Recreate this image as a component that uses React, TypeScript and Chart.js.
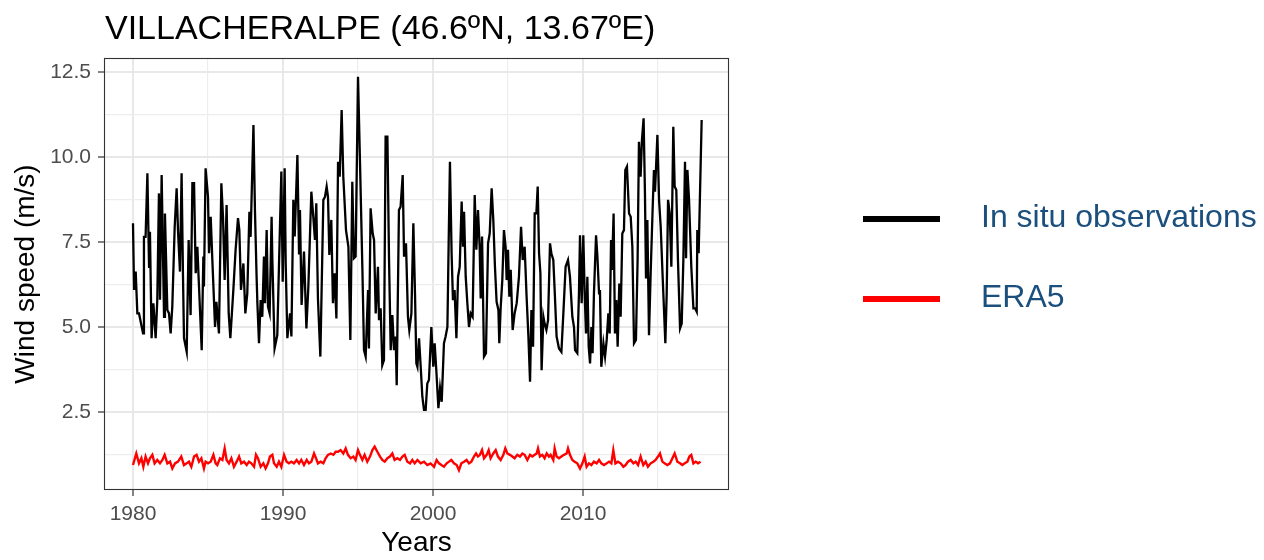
import React, { useEffect, useRef } from "react";
import { Chart, registerables } from "chart.js";

Chart.register(...registerables);

const TITLE = "VILLACHERALPE (46.6ºN, 13.67ºE)";
const X_TITLE = "Years";
const Y_TITLE = "Wind speed (m/s)";
const SERIES_LABELS = ["In situ observations", "ERA5"];
const SERIES_COLORS = ["#000000", "#ff0000"];

const X_MAJOR = [1980, 1990, 2000, 2010];
const X_MINOR = [1985, 1995, 2005, 2015];
const Y_MAJOR = [2.5, 5, 7.5, 10, 12.5];
const Y_MINOR = [1.25, 3.75, 6.25, 8.75, 11.25];

const obsYears = [
  1980.0, 1980.07, 1980.18, 1980.29, 1980.4, 1980.67, 1980.73, 1980.84, 1980.96, 1981.07,
  1981.13, 1981.24, 1981.36, 1981.51, 1981.62, 1981.73, 1981.8, 1981.91, 1982.07, 1982.13,
  1982.29, 1982.4, 1982.51, 1982.62, 1982.78, 1982.91, 1983.0, 1983.13, 1983.24, 1983.33,
  1983.4, 1983.58, 1983.71, 1983.84, 1983.96, 1984.07, 1984.18, 1984.29, 1984.4, 1984.58,
  1984.69, 1984.73, 1984.84, 1985.0, 1985.07, 1985.18, 1985.29, 1985.47, 1985.56, 1985.73,
  1985.89, 1986.0, 1986.11, 1986.24, 1986.38, 1986.49, 1986.69, 1986.84, 1987.0, 1987.09,
  1987.2, 1987.36, 1987.49, 1987.62, 1987.76, 1987.84, 1988.03, 1988.13, 1988.24, 1988.29,
  1988.4, 1988.51, 1988.62, 1988.73, 1988.8, 1988.91, 1989.0, 1989.11, 1989.24, 1989.29,
  1989.44, 1989.62, 1989.73, 1989.89, 1989.98, 1990.11, 1990.18, 1990.29, 1990.47, 1990.56,
  1990.69, 1990.78, 1990.96, 1991.07, 1991.13, 1991.24, 1991.4, 1991.56, 1991.69, 1991.89,
  1992.02, 1992.13, 1992.22, 1992.33, 1992.49, 1992.69, 1992.8, 1992.91, 1993.0, 1993.09,
  1993.22, 1993.33, 1993.44, 1993.56, 1993.67, 1993.78, 1993.91, 1994.02, 1994.2, 1994.36,
  1994.49, 1994.62, 1994.73, 1994.84, 1995.0, 1995.13, 1995.29, 1995.4, 1995.51, 1995.67,
  1995.73, 1995.84, 1995.98, 1996.07, 1996.18, 1996.33, 1996.4, 1996.51, 1996.62, 1996.73,
  1996.84, 1996.96, 1997.07, 1997.18, 1997.29, 1997.4, 1997.51, 1997.58, 1997.73, 1997.84,
  1997.98, 1998.07, 1998.2, 1998.33, 1998.42, 1998.56, 1998.69, 1998.8, 1998.89, 1998.96,
  1999.07, 1999.18, 1999.29, 1999.4, 1999.51, 1999.62, 1999.73, 1999.89, 2000.02, 2000.11,
  2000.22, 2000.36, 2000.47, 2000.58, 2000.73, 2000.84, 2000.96, 2001.04, 2001.13, 2001.24,
  2001.33, 2001.44, 2001.56, 2001.67, 2001.78, 2001.91, 2002.0, 2002.07, 2002.18, 2002.29,
  2002.4, 2002.51, 2002.64, 2002.78, 2002.89, 2003.0, 2003.11, 2003.18, 2003.27, 2003.4,
  2003.53, 2003.67, 2003.78, 2003.91, 2004.02, 2004.13, 2004.24, 2004.36, 2004.42, 2004.51,
  2004.62, 2004.73, 2004.84, 2004.91, 2005.0, 2005.09, 2005.18, 2005.31, 2005.44, 2005.58,
  2005.73, 2005.87, 2005.98, 2006.11, 2006.24, 2006.36, 2006.47, 2006.56, 2006.67, 2006.78,
  2006.89, 2006.98, 2007.07, 2007.16, 2007.24, 2007.36, 2007.44, 2007.56, 2007.67, 2007.8,
  2007.89, 2008.02, 2008.11, 2008.24, 2008.4, 2008.56, 2008.69, 2008.84, 2009.0, 2009.13,
  2009.29, 2009.4, 2009.47, 2009.62, 2009.73, 2009.8, 2009.91, 2010.02, 2010.11, 2010.2,
  2010.29, 2010.38, 2010.47, 2010.56, 2010.64, 2010.73, 2010.87, 2010.96, 2011.07, 2011.13,
  2011.22, 2011.36, 2011.47, 2011.58, 2011.69, 2011.78, 2011.87, 2011.93, 2012.04, 2012.13,
  2012.22, 2012.31, 2012.42, 2012.51, 2012.62, 2012.73, 2012.82, 2012.93, 2013.07, 2013.18,
  2013.29, 2013.4, 2013.53, 2013.64, 2013.73, 2013.84, 2013.93, 2014.04, 2014.13, 2014.2,
  2014.29, 2014.4, 2014.51, 2014.64, 2014.73, 2014.8, 2014.96, 2015.07, 2015.18, 2015.31,
  2015.49, 2015.58, 2015.67, 2015.78, 2015.89, 2016.02, 2016.11, 2016.22, 2016.33, 2016.47,
  2016.58, 2016.69, 2016.8, 2016.87, 2016.96, 2017.07, 2017.22, 2017.36, 2017.47, 2017.58,
  2017.62, 2017.71, 2017.91,
];

const obsValues = [
  8.05, 6.09, 6.63, 5.4, 5.4, 4.81, 7.65, 7.65, 9.52, 6.77,
  7.8, 4.67, 5.7, 4.67, 5.8, 8.93, 5.8, 9.47, 5.3, 8.34,
  5.5, 5.4, 4.81, 5.6, 7.95, 9.08, 7.85, 6.63, 9.52, 6.58,
  4.67, 4.27, 7.56, 5.35, 9.23, 9.23, 6.58, 7.36, 6.19, 4.32,
  7.07, 6.19, 9.67, 8.83, 7.17, 8.24, 6.97, 5.0, 5.74, 4.81,
  9.23, 8.24, 6.38, 8.59, 5.4, 4.67, 6.09, 7.27, 8.2, 7.85,
  6.09, 6.87, 5.4, 5.99, 8.39, 7.65, 10.94, 8.44, 6.48, 5.74,
  4.52, 5.79, 5.3, 7.07, 5.7, 7.85, 5.6, 5.4, 8.24, 6.97,
  4.37, 4.76, 6.77, 9.57, 6.33, 9.67, 6.87, 4.67, 5.4, 4.72,
  8.74, 7.66, 10.06, 7.17, 8.44, 5.65, 7.22, 4.96, 6.19, 8.98,
  8.24, 7.56, 8.64, 5.84, 4.13, 8.74, 8.83, 9.13, 8.83, 7.12,
  8.15, 5.7, 6.58, 5.25, 9.86, 9.42, 11.38, 9.42, 7.85, 7.36,
  4.62, 9.27, 7.02, 7.07, 12.36, 9.91, 6.77, 4.32, 4.13, 6.09,
  4.37, 8.49, 7.75, 7.56, 5.4, 6.77, 5.2, 5.55, 3.88, 4.03,
  10.6, 10.6, 6.97, 4.32, 5.35, 4.32, 4.72, 3.29, 8.44, 8.54,
  9.47, 7.07, 7.46, 5.3, 4.91, 5.4, 8.05, 5.99, 3.93, 3.83,
  4.67, 3.83, 2.95, 2.56, 2.56, 3.34, 3.44, 5.0, 3.83, 4.52,
  3.73, 2.61, 3.2, 2.8, 4.52, 4.72, 5.0, 7.36, 9.86, 7.17,
  5.79, 6.09, 4.67, 6.48, 6.77, 8.69, 7.36, 8.39, 6.48, 5.7,
  5.0, 5.4, 5.3, 8.88, 7.27, 8.44, 7.36, 5.84, 7.66, 4.13,
  4.23, 7.46, 7.75, 9.08, 8.15, 6.77, 5.74, 5.5, 4.52, 5.55,
  6.38, 7.85, 7.36, 6.38, 7.27, 5.89, 6.68, 4.91, 5.4, 5.7,
  6.48, 7.95, 6.97, 7.36, 5.89, 4.72, 3.39, 5.5, 4.42, 8.34,
  8.34, 9.13, 7.17, 6.58, 3.73, 5.3, 5.1, 4.91, 5.2, 7.46,
  7.17, 6.97, 6.09, 4.72, 4.37, 4.27, 5.4, 6.77, 6.97, 6.48,
  5.3, 5.0, 4.32, 4.23, 5.99, 7.7, 5.7, 7.7, 5.99, 4.81,
  6.48, 4.42, 3.93, 5.0, 4.23, 5.99, 7.7, 7.07, 5.99, 6.09,
  3.83, 4.52, 4.13, 4.62, 5.4, 4.81, 7.56, 6.68, 8.34, 4.81,
  5.79, 4.42, 6.28, 5.3, 7.75, 7.85, 9.62, 9.72, 8.34, 8.24,
  7.36, 4.52, 4.62, 6.97, 10.45, 9.42, 10.5, 11.14, 8.93, 6.43,
  8.15, 4.76, 6.58, 8.44, 9.62, 8.98, 10.65, 8.74, 7.95, 6.48,
  4.52, 5.99, 8.74, 8.34, 6.77, 10.89, 9.13, 9.03, 6.97, 4.96,
  5.1, 6.97, 9.86, 7.02, 9.62, 8.74, 6.77, 5.55, 5.55, 5.45,
  7.85, 7.17, 11.09,
];

const eraYears = [
  1980.0, 1980.22, 1980.4, 1980.56, 1980.69, 1980.84, 1981.0, 1981.13, 1981.29, 1981.44,
  1981.62, 1981.8, 1981.96, 1982.11, 1982.29, 1982.47, 1982.62, 1982.8, 1983.0, 1983.22,
  1983.4, 1983.58, 1983.73, 1983.89, 1984.07, 1984.24, 1984.4, 1984.56, 1984.73, 1984.84,
  1985.0, 1985.18, 1985.36, 1985.51, 1985.62, 1985.8, 1985.96, 1986.11, 1986.24, 1986.4,
  1986.56, 1986.73, 1986.91, 1987.07, 1987.22, 1987.4, 1987.58, 1987.73, 1987.89, 1988.07,
  1988.2, 1988.33, 1988.51, 1988.69, 1988.84, 1989.0, 1989.13, 1989.29, 1989.4, 1989.58,
  1989.73, 1989.89, 1990.07, 1990.24, 1990.4, 1990.56, 1990.73, 1990.91, 1991.07, 1991.22,
  1991.4, 1991.58, 1991.73, 1991.89, 1992.07, 1992.2, 1992.33, 1992.51, 1992.69, 1992.84,
  1993.0, 1993.18, 1993.36, 1993.51, 1993.67, 1993.84, 1994.02, 1994.18, 1994.33, 1994.51,
  1994.69, 1994.84, 1995.0, 1995.13, 1995.29, 1995.44, 1995.62, 1995.8, 1995.96, 1996.11,
  1996.29, 1996.47, 1996.62, 1996.78, 1996.96, 1997.13, 1997.29, 1997.44, 1997.62, 1997.8,
  1997.96, 1998.11, 1998.29, 1998.47, 1998.62, 1998.78, 1998.96, 1999.18, 1999.4, 1999.62,
  1999.84, 2000.07, 2000.24, 2000.4, 2000.56, 2000.73, 2000.91, 2001.07, 2001.22, 2001.4,
  2001.58, 2001.73, 2001.89, 2002.07, 2002.24, 2002.4, 2002.56, 2002.73, 2002.87, 2003.0,
  2003.13, 2003.27, 2003.4, 2003.58, 2003.71, 2003.84, 2004.02, 2004.18, 2004.33, 2004.51,
  2004.69, 2004.82, 2004.96, 2005.13, 2005.29, 2005.44, 2005.62, 2005.8, 2005.96, 2006.11,
  2006.29, 2006.47, 2006.62, 2006.78, 2006.91, 2007.0, 2007.13, 2007.29, 2007.44, 2007.58,
  2007.73, 2007.84, 2008.02, 2008.11, 2008.24, 2008.4, 2008.56, 2008.73, 2008.91, 2009.0,
  2009.13, 2009.29, 2009.44, 2009.62, 2009.8, 2009.96, 2010.11, 2010.24, 2010.4, 2010.56,
  2010.73, 2010.91, 2011.07, 2011.22, 2011.4, 2011.58, 2011.73, 2011.89, 2012.02, 2012.16,
  2012.33, 2012.51, 2012.69, 2012.84, 2013.0, 2013.18, 2013.36, 2013.51, 2013.67, 2013.84,
  2014.02, 2014.18, 2014.33, 2014.51, 2014.69, 2014.84, 2015.0, 2015.13, 2015.29, 2015.44,
  2015.62, 2015.8, 2015.96, 2016.11, 2016.29, 2016.47, 2016.62, 2016.78, 2016.96, 2017.09,
  2017.22, 2017.36, 2017.51, 2017.67, 2017.84,
];

const eraValues = [
  0.94, 1.28, 0.99, 1.14, 0.89, 1.19, 0.99, 1.14, 1.24, 0.99,
  1.09, 0.99, 1.09, 1.24, 0.99, 1.04, 0.84, 0.99, 1.04, 1.19,
  0.94, 0.99, 1.04, 0.89, 1.19, 1.24, 1.04, 1.14, 0.84, 1.04,
  0.99, 1.04, 1.24, 0.99, 0.94, 1.14, 1.09, 1.43, 1.09, 0.99,
  1.14, 0.89, 1.04, 1.19, 0.99, 1.04, 0.94, 1.04, 0.99, 0.89,
  1.24, 1.14, 0.89, 0.99, 0.84, 0.99, 1.19, 1.24, 0.99, 0.89,
  1.04, 0.89, 1.24, 1.04, 0.99, 1.04, 0.99, 1.09, 0.99, 1.09,
  0.94, 1.09, 0.99, 1.04, 1.28, 1.14, 0.99, 1.04, 0.99, 1.14,
  1.24, 1.28, 1.24, 1.33, 1.33, 1.38, 1.28, 1.43, 1.24, 1.14,
  1.19, 1.09, 1.38, 1.24, 1.09, 1.24, 1.04, 1.19, 1.38, 1.48,
  1.33, 1.19, 1.09, 1.04, 1.14, 1.19, 1.28, 1.09, 1.14, 1.09,
  1.19, 1.24, 1.04, 0.99, 1.09, 0.99, 1.09, 0.99, 1.04, 0.94,
  0.99, 0.89, 1.09, 0.99, 0.94, 0.89, 0.99, 1.04, 1.09, 0.99,
  0.94, 0.79, 0.99, 1.04, 1.09, 0.99, 1.04, 1.19, 1.28, 1.19,
  1.24, 1.38, 1.14, 1.24, 1.38, 1.14, 1.28, 1.38, 1.19, 1.09,
  1.24, 1.43, 1.28, 1.24, 1.19, 1.14, 1.24, 1.19, 1.28, 1.24,
  1.09, 1.24, 1.19, 1.24, 1.28, 1.43, 1.19, 1.24, 1.14, 1.28,
  1.19, 1.24, 1.09, 1.43, 1.19, 1.14, 1.19, 1.24, 1.28, 1.43,
  1.24, 1.09, 1.04, 0.99, 0.84, 0.99, 1.19, 0.89, 0.99, 0.94,
  1.04, 0.99, 1.09, 0.99, 0.94, 0.99, 1.04, 0.99, 1.38, 0.99,
  1.04, 0.99, 0.89, 0.94, 1.04, 1.09, 0.99, 1.04, 0.94, 1.19,
  0.94, 1.04, 0.89, 0.99, 1.04, 1.09, 1.19, 1.28, 1.04, 0.99,
  0.94, 0.99, 1.14, 1.28, 1.04, 0.99, 0.94, 0.99, 1.04, 1.19,
  1.24, 0.99, 1.04, 0.99, 1.04,
];

const X_MIN = 1978.067;
const X_MAX = 2019.733;
const Y_MIN = 0.206;
const Y_MAX = 12.912;

const FONT = '"Liberation Sans", Arial, Helvetica, sans-serif';

const decorPlugin = {
  id: "decor",
  afterDraw(chart: any) {
    const { ctx, chartArea: a } = chart;
    ctx.save();
    // panel border
    ctx.strokeStyle = "#333333";
    ctx.lineWidth = 1.1;
    ctx.strokeRect(a.left + 0.5, a.top + 0.5, a.right - a.left - 1, a.bottom - a.top - 1);
    // title
    ctx.fillStyle = "#000000";
    ctx.font = `34px ${FONT}`;
    ctx.textAlign = "left";
    ctx.textBaseline = "alphabetic";
    ctx.fillText(TITLE, 105, 39);
    // legend
    const rows = [219, 299];
    SERIES_LABELS.forEach((label, i) => {
      const y = rows[i];
      ctx.strokeStyle = SERIES_COLORS[i];
      ctx.lineWidth = 6;
      ctx.lineCap = "butt";
      ctx.beginPath();
      ctx.moveTo(863, y);
      ctx.lineTo(940, y);
      ctx.stroke();
      ctx.fillStyle = "#1b4f7e";
      ctx.font = `32px ${FONT}`;
      ctx.textBaseline = "alphabetic";
      ctx.fillText(label, 981, y + 8);
    });
    ctx.restore();
  },
};

export default function App() {
  const ref = useRef<HTMLCanvasElement | null>(null);

  useEffect(() => {
    const canvas = ref.current;
    if (!canvas) return;
    const xAll = [...X_MAJOR, ...X_MINOR].sort((a, b) => a - b);
    const yAll = [...Y_MAJOR, ...Y_MINOR].sort((a, b) => a - b);
    const obsData = obsYears.map((x, i) => ({ x, y: obsValues[i] }));
    const eraData = eraYears.map((x, i) => ({ x, y: eraValues[i] }));

    const chart = new Chart(canvas, {
      type: "line",
      data: {
        datasets: [
          {
            label: SERIES_LABELS[1],
            data: eraData,
            borderColor: SERIES_COLORS[1],
            borderWidth: 2.4,
            pointRadius: 0,
            tension: 0,
          },
          {
            label: SERIES_LABELS[0],
            data: obsData,
            borderColor: SERIES_COLORS[0],
            borderWidth: 2.3,
            pointRadius: 0,
            tension: 0,
          },
        ],
      },
      options: {
        responsive: false,
        animation: false,
        events: [],
        layout: { padding: { left: 0, top: 58, right: 535, bottom: 0 } },
        plugins: {
          legend: { display: false },
          title: { display: false },
          tooltip: { enabled: false },
        },
        scales: {
          x: {
            type: "linear",
            min: X_MIN,
            max: X_MAX,
            afterBuildTicks: (scale: any) => {
              scale.ticks = xAll.map((v) => ({ value: v }));
            },
            afterFit: (scale: any) => {
              scale.height = 70;
            },
            border: { display: false },
            grid: {
              color: (c: any) => (X_MAJOR.includes(c.tick?.value) ? "#e8e8e8" : "#ededed"),
              lineWidth: (c: any) => (X_MAJOR.includes(c.tick?.value) ? 2 : 1.2),
              tickColor: (c: any) => (X_MAJOR.includes(c.tick?.value) ? "#333333" : "rgba(0,0,0,0)"),
              tickLength: 6,
              tickWidth: 1.2,
            },
            ticks: {
              autoSkip: false,
              maxRotation: 0,
              padding: 6,
              color: "#4d4d4d",
              font: { family: FONT, size: 21 },
              callback: (v: any) => (X_MAJOR.includes(v) ? String(v) : ""),
            },
            title: {
              display: true,
              text: X_TITLE,
              color: "#000000",
              font: { family: FONT, size: 28 },
              padding: { top: 0, bottom: 0 },
            },
          },
          y: {
            type: "linear",
            min: Y_MIN,
            max: Y_MAX,
            afterBuildTicks: (scale: any) => {
              scale.ticks = yAll.map((v) => ({ value: v }));
            },
            afterFit: (scale: any) => {
              scale.width = 104;
            },
            border: { display: false },
            grid: {
              color: (c: any) => (Y_MAJOR.includes(c.tick?.value) ? "#e8e8e8" : "#ededed"),
              lineWidth: (c: any) => (Y_MAJOR.includes(c.tick?.value) ? 2 : 1.2),
              tickColor: (c: any) => (Y_MAJOR.includes(c.tick?.value) ? "#333333" : "rgba(0,0,0,0)"),
              tickLength: 6,
              tickWidth: 1.2,
            },
            ticks: {
              autoSkip: false,
              padding: 7,
              color: "#4d4d4d",
              font: { family: FONT, size: 21 },
              callback: (v: any) => (Y_MAJOR.includes(v) ? Number(v).toFixed(1) : ""),
            },
            title: {
              display: true,
              text: Y_TITLE,
              color: "#000000",
              font: { family: FONT, size: 28 },
              padding: { top: 9, bottom: 0 },
            },
          },
        },
      },
      plugins: [decorPlugin],
    } as any);

    return () => chart.destroy();
  }, []);

  return (
    <div style={{ position: "absolute", left: 0, top: 0, width: 1264, height: 560, background: "#ffffff" }}>
      <canvas ref={ref} width={1264} height={560} style={{ display: "block" }} />
    </div>
  );
}
